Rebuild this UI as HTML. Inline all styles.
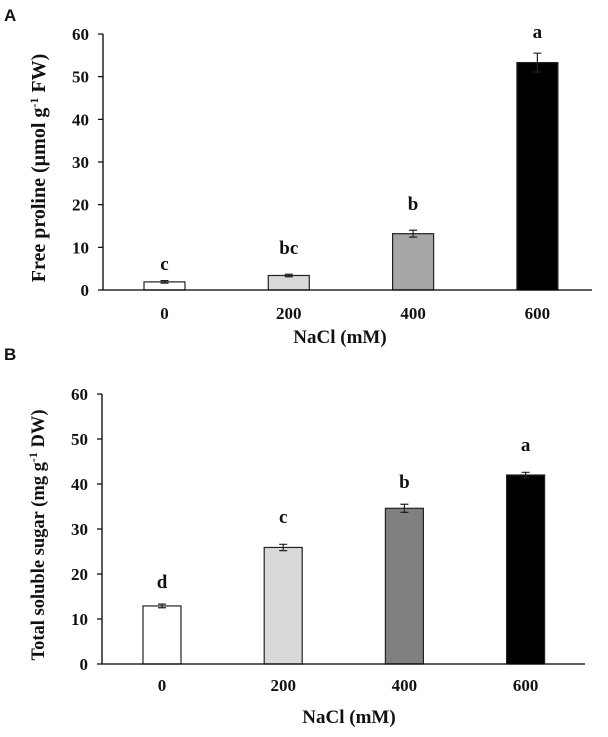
<!DOCTYPE html>
<html><head><meta charset="utf-8"><style>
html,body{margin:0;padding:0;background:#fff}
svg text{font-family:"Liberation Serif",serif;font-weight:bold;fill:#111}
</style></head><body>
<svg id="c" width="608" height="732" viewBox="0 0 608 732" xmlns="http://www.w3.org/2000/svg">
<text x="4" y="21" style="font-family:'Liberation Sans',sans-serif;font-size:17px">A</text>
<text x="4" y="360" style="font-family:'Liberation Sans',sans-serif;font-size:17px">B</text>
</svg>
<script>
const categories=["0","200","400","600"];
const prolineValues=[1.9,3.4,13.2,53.3];
const prolineErrors=[0.3,0.3,0.8,2.2];
const prolineLetters=["c","bc","b","a"];
const sugarValues=[12.9,25.9,34.6,42.0];
const sugarErrors=[0.4,0.7,0.9,0.6];
const sugarLetters=["d","c","b","a"];
const yTicks=[0,10,20,30,40,50,60];
const prolineColors=["#ffffff","#d9d9d9","#a6a6a6","#000000"];
const sugarColors=["#ffffff","#d9d9d9","#808080","#000000"];

const svg=document.getElementById('c');
const NS='http://www.w3.org/2000/svg';
function mk(t,a){const e=document.createElementNS(NS,t);for(const k in a)e.setAttribute(k,a[k]);svg.appendChild(e);return e;}

function panel(p){
  const y=v=>p.y0-(v/60)*(p.y0-p.y60);
  const x=i=>p.c0+i*p.step;
  let ax=mk('line',{x1:p.ax,y1:p.y60,x2:p.ax,y2:p.y0,stroke:'#000','stroke-width':1.3});
  
  
  yTicks.forEach(t=>{
    const tk=mk('line',{x1:p.ax-5,y1:y(t),x2:p.ax,y2:y(t),stroke:'#000','stroke-width':1.2});
    
    
    const tl=mk('text',{x:p.ax-14,y:y(t)+6,'text-anchor':'end','font-size':17});
    tl.textContent=t;
    
    
  });
  p.vals.forEach((v,i)=>{
    const cx=x(i);
    const b=mk('rect',{x:cx-p.bw/2,y:y(v),width:p.bw,height:p.y0-y(v),fill:p.colors[i],stroke:'#222','stroke-width':1.2});
    
    
    const e=p.errs[i];
    const eb=mk('path',{d:`M${cx},${y(v+e)}V${y(v-e)}M${cx-4},${y(v+e)}H${cx+4}M${cx-4},${y(v-e)}H${cx+4}`,stroke:'#222','stroke-width':1.2,fill:'none'});
    
    
    const lt=mk('text',{x:cx,y:p.letterY[i],'text-anchor':'middle','font-size':19});
    lt.textContent=p.letters[i];
    
    
    const xl=mk('text',{x:cx,y:p.xlabY,'text-anchor':'middle','font-size':17});
    xl.textContent=categories[i];
    
    
  });
  const xa=mk('line',{x1:p.ax,y1:p.y0,x2:p.xend,y2:p.y0,stroke:'#000','stroke-width':1.3});
  
  
  const xt=mk('text',{x:p.xtX,y:p.xtY,'text-anchor':'middle','font-size':19});
  xt.textContent='NaCl (mM)';
  
  
  const yt=mk('text',{x:0,y:0,'text-anchor':'middle','font-size':p.ytSize,transform:`translate(${p.ytX},${p.ytY}) rotate(-90)`});
  yt.innerHTML=p.ytitle;
  
  
}
panel({id:'proline',y0:290,y60:34,ax:103,xend:592,c0:164.5,step:124.3,bw:41,vals:prolineValues,errs:prolineErrors,colors:prolineColors,letters:prolineLetters,letterY:[270,254,210,38],xlabY:319,xtX:340,xtY:343,ytX:45,ytY:168,ytSize:20,ytitle:'Free proline (µmol g<tspan dy="-7" font-size="12">-1</tspan><tspan dy="7"> FW)</tspan>'});
panel({id:'sugar',y0:664,y60:394,ax:102,xend:585,c0:162,step:121.2,bw:38,vals:sugarValues,errs:sugarErrors,colors:sugarColors,letters:sugarLetters,letterY:[588,523,488,451],xlabY:691,xtX:349,xtY:723,ytX:44,ytY:535,ytSize:18.5,ytitle:'Total soluble sugar (mg g<tspan dy="-7" font-size="12">-1</tspan><tspan dy="7"> DW)</tspan>'});
</script>
</body></html>
